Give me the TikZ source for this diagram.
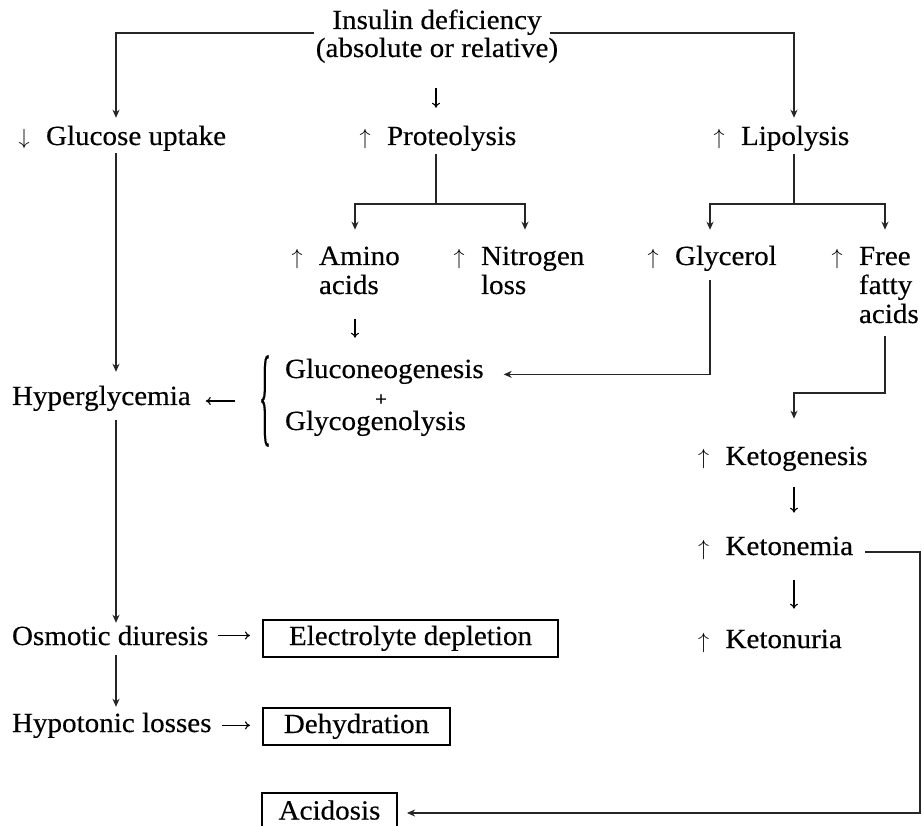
\RequirePackage{fix-cm}
\documentclass[tikz,border=0pt]{standalone}
\usepackage{graphicx}
\usepackage{fontspec}
\setmainfont{Liberation Serif}[FakeStretch=1.05, FakeBold=0.35]
\usetikzlibrary{arrows.meta}

% small arrow glyphs that precede the labels
\newcommand\upsym{{\fontsize{22}{22}\selectfont$\uparrow$}}
\newcommand\dnsym{{\fontsize{22}{22}\selectfont$\downarrow$}}
\newcommand\upa{\upsym\hspace{16.5pt}}

\begin{document}
\begin{tikzpicture}[x=1pt,y=-1pt,
  every node/.style={inner sep=0pt, outer sep=0pt},
  font=\fontsize{27.7}{29}\selectfont,
  lbl/.style={anchor=base west},
  conn/.style={line width=1.6pt, draw=black!85},
  arr/.style={conn, -{Stealth[length=8pt,width=7pt,inset=2.5pt]}},
  glyph/.style={line width=1.1pt, -{Computer Modern Rightarrow[length=5pt,width=8pt]}},
  outcome/.style={draw, line width=1.8pt, anchor=north west, text height=19pt, text depth=6pt},
]
\useasboundingbox (0,0) rectangle (922,826);

% column positions of the vertical connectors
\coordinate (cL) at (116,0);
\coordinate (cM) at (436,0);
\coordinate (cR) at (794,0);
\coordinate (cAm) at (355,0);
\coordinate (cNi) at (525,0);
\coordinate (cGl) at (710,0);
\coordinate (cFf) at (885,0);
\coordinate (psplit) at (436,204);
\coordinate (lsplit) at (794,204);
\coordinate (fkbend) at (794,393);
\coordinate (rail) at (920,0);

% top
\node[anchor=base] (ins1) at (437,29) {Insulin deficiency};
\node[anchor=base] (ins2) at (437,57) {(absolute or relative)};

% first level
\node[lbl] (gu) at (18.5,145) {\dnsym\hspace{16.5pt}Glucose uptake};
\node[lbl] (prot) at (359.5,145) {\upa Proteolysis};
\node[lbl] (lip) at (713.5,145) {\upa Lipolysis};

% second level
\node[lbl] (am) at (291.5,265) {\begin{tabular}[t]{@{}l@{\hspace{16.5pt}}l@{}}\upsym&Amino\\&acids\end{tabular}};
\node[lbl] (ni) at (453.5,265) {\begin{tabular}[t]{@{}l@{\hspace{16.5pt}}l@{}}\upsym&Nitrogen\\&loss\end{tabular}};
\node[lbl] (gl) at (647.5,265) {\upa Glycerol};
\node[lbl] (ff) at (831.5,265) {\begin{tabular}[t]{@{}l@{\hspace{16.5pt}}l@{}}\upsym&Free\\&fatty\\&acids\end{tabular}};

% glucose production
\node[lbl] (glu) at (285,378) {Gluconeogenesis};
\node[font=\fontsize{20}{20}\selectfont] (plus) at (381,400) {+};
\node[lbl] (gly) at (285,430) {Glycogenolysis};
\node (br) at (265,401) {\resizebox{12pt}{76pt}{\{}};

% left column
\node[lbl] (hyp) at (12,405) {Hyperglycemia};
\node[lbl] (os) at (12,645) {Osmotic diuresis};
\node[lbl] (hl) at (12,732) {Hypotonic losses};

% outcome boxes
\node[outcome, minimum width=295pt, minimum height=37pt] (el) at (263,620) {Electrolyte depletion};
\node[outcome, minimum width=187pt, minimum height=37pt] (de) at (263,708) {Dehydration};
\node[outcome, minimum width=135pt, minimum height=40pt] (ac) at (262,793) {Acidosis};

% ketone branch
\node[lbl] (ket) at (698,465) {\upa Ketogenesis};
\node[lbl] (kem) at (698,555) {\upa Ketonemia};
\node[lbl] (ku) at (698,648) {\upa Ketonuria};

% connectors from the top
\draw[arr, shorten >=8pt] ([shift={(-18,4)}]ins1.base west) -| (gu.north -| cL);
\draw[arr, shorten >=8pt] ([shift={(8,4)}]ins1.base east) -| (lip.north -| cR);
\draw[glyph, shorten <=25pt, shorten >=18pt] (ins2.south -| cM) -- (prot.north -| cM);

% glucose column
\draw[arr, shorten <=2pt, shorten >=14pt] (gu.south -| cL) -- (hyp.north -| cL);
\draw[arr, shorten <=9pt, shorten >=3pt] (hyp.south -| cL) -- (os.north -| cL);
\draw[arr, shorten <=10pt, shorten >=6pt] (os.south -| cL) -- (hl.north -| cL);

% proteolysis split
\draw[conn, shorten <=3pt] (prot.south -| cM) -- (psplit);
\draw[arr, shorten >=15pt] (psplit) -| (am.north -| cAm);
\draw[arr, shorten >=15pt] (psplit) -| (ni.north -| cNi);
\draw[glyph, shorten <=16pt, shorten >=21pt] (am.south -| cAm) -- (glu.north -| cAm);

% lipolysis split
\draw[conn, shorten <=3pt] (lip.south -| cR) -- (lsplit);
\draw[arr, shorten >=16pt] (lsplit) -| (gl.north -| cGl);
\draw[arr, shorten >=15pt] (lsplit) -| (ff.north -| cFf);

% glycerol into gluconeogenesis
\draw[arr, shorten <=9pt, shorten >=20pt] (gl.south -| cGl) |- ([yshift=-3pt]glu.east);

% fatty acids into ketogenesis
\draw[arr, shorten <=4pt, shorten >=28pt] (ff.south -| cFf) |- (fkbend) -- (ket.north -| fkbend);
\draw[glyph, shorten <=16pt, shorten >=24pt] (ket.south -| cR) -- (kem.north -| cR);
\draw[glyph, shorten <=21pt, shorten >=21pt] (kem.south -| cR) -- (ku.north -| cR);

% ketonemia to acidosis
\draw[arr, shorten <=12pt, shorten >=10pt] ([yshift=-4pt]kem.east) -| (rail |- ac.east) -- (ac.east);

% short glyph arrows
\draw[glyph, shorten <=24pt, shorten >=15pt] (br.west) -- (br.west -| hyp.east);
\draw[glyph, shorten <=10pt, shorten >=13pt] (os.east) -- (os.east -| el.west);
\draw[glyph, shorten <=10pt, shorten >=13pt] (hl.east) -- (hl.east -| de.west);
\end{tikzpicture}
\end{document}
